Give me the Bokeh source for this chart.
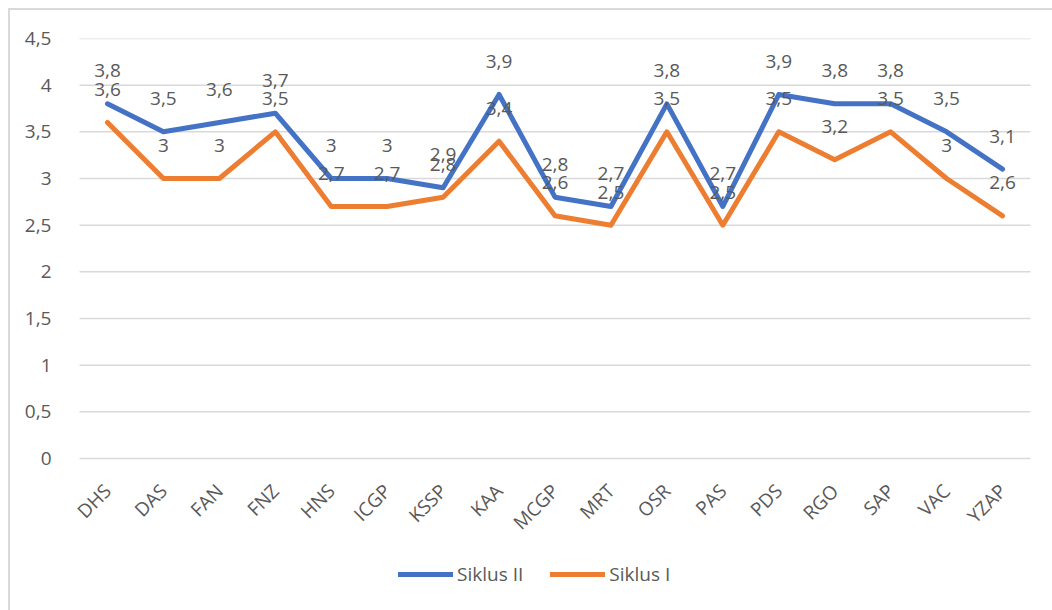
import math
from bokeh.plotting import figure
from bokeh.models import ColumnDataSource, FactorRange, Range1d, FixedTicker, LabelSet, Legend, LegendItem
from bokeh.core.properties import value
from bokeh.embed import file_html
from bokeh.resources import INLINE

categories = ["DHS", "DAS", "FAN", "FNZ", "HNS", "ICGP", "KSSP", "KAA", "MCGP",
              "MRT", "OSR", "PAS", "PDS", "RGO", "SAP", "VAC", "YZAP"]
siklus_2 = [3.8, 3.5, 3.6, 3.7, 3.0, 3.0, 2.9, 3.9, 2.8, 2.7, 3.8, 2.7, 3.9, 3.8, 3.8, 3.5, 3.1]
siklus_1 = [3.6, 3.0, 3.0, 3.5, 2.7, 2.7, 2.8, 3.4, 2.6, 2.5, 3.5, 2.5, 3.5, 3.2, 3.5, 3.0, 2.6]
y_ticks = [0, 0.5, 1, 1.5, 2, 2.5, 3, 3.5, 4, 4.5]
y_tick_labels = ["0", "0,5", "1", "1,5", "2", "2,5", "3", "3,5", "4", "4,5"]
series_names = ["Siklus II", "Siklus I"]

BLUE = "#4472C4"
ORANGE = "#ED7D31"
GREY = "#595959"
GRID = "#d9d9d9"
FONT = "Open Sans"
FS = "19px"

# layout (pixels)
PLOT_W = 951           # width of the category span
SIDE_PAD = 20          # extra frame room each side so rotated labels are not clipped
FRAME_W = PLOT_W + 2 * SIDE_PAD
FRAME_H = 572
VALUE_H = 420          # pixel height of the 0..4.5 value span
y_max = y_ticks[-1]
y_min = y_max - y_max * FRAME_H / VALUE_H


def fmt(v):
    return f"{v:g}".replace(".", ",")


src2 = ColumnDataSource(dict(x=categories, y=siklus_2, t=[fmt(v) for v in siklus_2]))
src1 = ColumnDataSource(dict(x=categories, y=siklus_1, t=[fmt(v) for v in siklus_1]))
n_cat = len(categories)
grid_src = ColumnDataSource(dict(x0=[0] * len(y_ticks), x1=[n_cat] * len(y_ticks),
                                 y=y_ticks))

x_range = FactorRange(*categories, range_padding=2 * SIDE_PAD / PLOT_W,
                      range_padding_units="percent")
p = figure(frame_width=FRAME_W, frame_height=FRAME_H, x_range=x_range,
           y_range=Range1d(y_min, y_max), output_backend="svg", toolbar_location=None,
           min_border_left=49, min_border_right=2, min_border_top=28, min_border_bottom=0)
p.styles = {"margin-left": "8px", "margin-top": "8px",
            "border-left": "2px solid " + GRID, "border-top": "2px solid " + GRID}
p.outline_line_color = None

p.segment(x0="x0", x1="x1", y0="y", y1="y", source=grid_src, line_color=GRID, line_width=1.5)

r2 = p.line("x", "y", source=src2, line_color=BLUE, line_width=5, line_join="round", line_cap="round")
r1 = p.line("x", "y", source=src1, line_color=ORANGE, line_width=5, line_join="round", line_cap="round")

for src in (src2, src1):
    p.add_layout(LabelSet(x="x", y="y", text="t", source=src, y_offset=33,
                          text_align="center", text_baseline="middle",
                          text_font=value(FONT), text_font_size=value(FS), text_color=GREY))

p.yaxis.ticker = FixedTicker(ticks=y_ticks)
p.yaxis.major_label_overrides = {t: l for t, l in zip(y_ticks, y_tick_labels)}
for ax in (p.xaxis[0], p.yaxis[0]):
    ax.axis_line_color = None
    ax.major_tick_line_color = None
    ax.minor_tick_line_color = None
    ax.major_label_text_font = FONT
    ax.major_label_text_font_size = FS
    ax.major_label_text_color = GREY
p.yaxis.major_label_standoff = 2
p.xaxis.fixed_location = 0
p.xaxis.major_label_orientation = math.pi / 4
p.xaxis.major_label_standoff = 23

p.xgrid.grid_line_color = None
p.ygrid.grid_line_color = None

legend = Legend(items=[LegendItem(label=series_names[0], renderers=[r2]),
                       LegendItem(label=series_names[1], renderers=[r1])],
                orientation="horizontal", location=(339, 23),
                padding=0, spacing=27, glyph_width=55, glyph_height=20,
                label_standoff=4, label_text_font=FONT, label_text_font_size=FS,
                label_text_color=GREY, border_line_color=None, background_fill_alpha=0)
p.add_layout(legend, "center")

open("out.html", "w").write(file_html(p, INLINE))
